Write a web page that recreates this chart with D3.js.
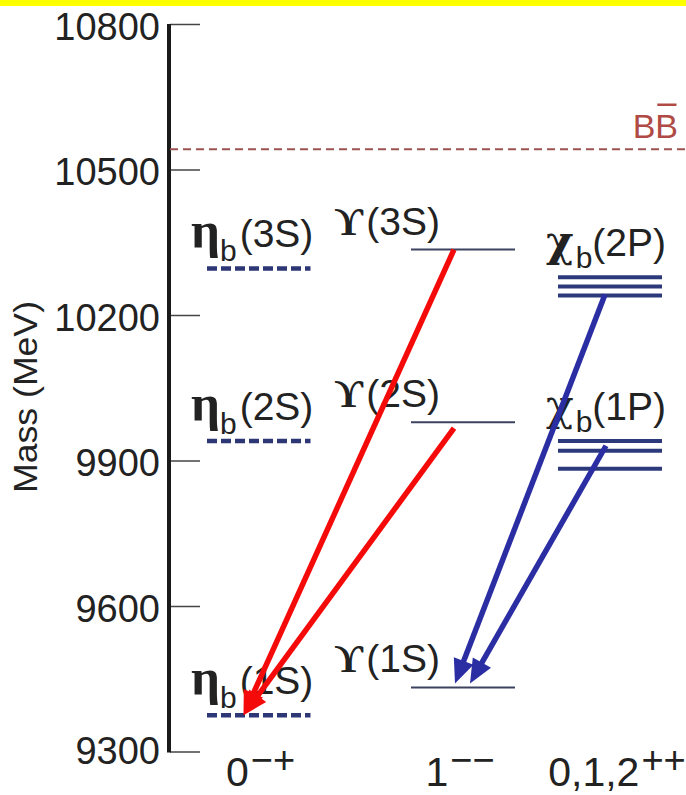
<!DOCTYPE html>
<html>
<head>
<meta charset="utf-8">
<script src="https://cdn.jsdelivr.net/npm/d3@7"></script>
<style>
  html, body { margin: 0; padding: 0; background: #fff; }
  svg { display: block; }
</style>
</head>
<body>
<svg id="chart" width="686" height="795"></svg>
<script>
// ---- data -----------------------------------------------------------
const columnKeys = ["eta", "ups", "chi"];
const columnBase = ["0", "1", "0,1,2"];
const columnSup = ["\u2212+", "\u2212\u2212", "++"];

const etaStates = ["1S", "2S", "3S"];
const etaMass = [9375, 9940, 10296];

const upsStates = ["1S", "2S", "3S"];
const upsMass = [9432, 9979, 10335];

const chiStates = ["1P", "2P"];
const chiMass = [[9883, 9920, 9940], [10240, 10259, 10278]];

const bbThreshold = 10542;
const massTicks = [9300, 9600, 9900, 10200, 10500, 10800];

const transitionFrom = ["ups:3S", "ups:2S", "chi:2P", "chi:1P"];
const transitionTo = ["eta:1S", "eta:1S", "ups:1S", "ups:1S"];
const transitionKind = ["M1", "M1", "E1", "E1"];

// ---- layout ---------------------------------------------------------
const svg = d3.select("#chart");
const W = 686;
const axisX = 170;

const y = d3.scaleLinear().domain([9300, 10800]).range([751.5, 24]);
const xCol = d3.scaleOrdinal().domain(columnKeys).range([258.5, 463, 610]);
const halfLen = 52;

const sans = "'Liberation Sans', Arial, Helvetica, sans-serif";
const serif = "'Liberation Serif', 'DejaVu Serif', 'Times New Roman', serif";
const greekSerif = "'DejaVu Serif', 'Liberation Serif', serif";
const ink = "#222";

// banner strip across the top
svg.append("rect").attr("x", 0).attr("y", 0).attr("width", W).attr("height", 6)
  .attr("fill", "#ffff00");

// ---- mass axis ------------------------------------------------------
const tickAxis = svg.append("g").attr("transform", `translate(${axisX},0)`)
  .call(d3.axisRight(y).tickValues(massTicks).tickSizeInner(30).tickSizeOuter(0).tickFormat(""));
tickAxis.select(".domain").remove();
tickAxis.selectAll(".tick line").attr("stroke", "#444").attr("stroke-width", 1.5);

const labelAxis = svg.append("g").attr("transform", `translate(${axisX},0)`)
  .call(d3.axisLeft(y).tickValues(massTicks).tickSize(0).tickPadding(10).tickFormat(d3.format("d")));
labelAxis.select(".domain").remove();
labelAxis.selectAll(".tick text")
  .attr("font-family", sans).attr("font-size", 38).attr("fill", ink)
  .attr("dy", null).attr("y", d => d === 9300 ? 12 : 15);

svg.append("line")
  .attr("x1", axisX - 1).attr("x2", axisX - 1)
  .attr("y1", y(10800)).attr("y2", y(9300) + 1)
  .attr("stroke", "#1a1a1a").attr("stroke-width", 4);

svg.append("text")
  .attr("transform", `translate(37,${397}) rotate(-90)`)
  .attr("text-anchor", "middle")
  .attr("font-family", sans).attr("font-size", 33).attr("fill", ink)
  .attr("textLength", 192).attr("lengthAdjust", "spacingAndGlyphs")
  .text("Mass (MeV)");

// ---- BB threshold ---------------------------------------------------
svg.append("line")
  .attr("x1", axisX).attr("x2", W)
  .attr("y1", y(bbThreshold)).attr("y2", y(bbThreshold))
  .attr("stroke", "#9c5352").attr("stroke-width", 2)
  .attr("stroke-dasharray", "8,5");

const bb = svg.append("text")
  .attr("x", 678).attr("y", 138).attr("text-anchor", "end")
  .attr("font-family", sans).attr("font-size", 34).attr("fill", "#b04a44");
bb.append("tspan").text("B");
const bBar = bb.append("tspan").text("B");
{
  const bx = bBar.node().getExtentOfChar(0);
  svg.append("rect")
    .attr("x", bx.x + 2).attr("y", 103.5).attr("width", bx.width - 3.5).attr("height", 2.5)
    .attr("fill", "#b04a44");
}

// ---- levels ---------------------------------------------------------
const levels = svg.append("g");

// eta_b (0-+): dashed
levels.selectAll("line.eta").data(etaMass).join("line")
  .attr("class", "eta")
  .attr("x1", xCol("eta") - halfLen + 0.5).attr("x2", xCol("eta") + halfLen)
  .attr("y1", d => y(d)).attr("y2", d => y(d))
  .attr("stroke", "#2d3775").attr("stroke-width", 4.5)
  .attr("stroke-dasharray", "10,4");

// Upsilon (1--): thin solid
levels.selectAll("line.ups").data(upsMass).join("line")
  .attr("class", "ups")
  .attr("x1", xCol("ups") - halfLen).attr("x2", xCol("ups") + halfLen)
  .attr("y1", d => y(d)).attr("y2", d => y(d))
  .attr("stroke", "#3d4260").attr("stroke-width", 2);

// chi_b (0,1,2++): triplets
levels.selectAll("g.chi").data(chiMass).join("g")
  .attr("class", "chi")
  .selectAll("line").data(d => d).join("line")
  .attr("x1", xCol("chi") - halfLen).attr("x2", xCol("chi") + halfLen)
  .attr("y1", d => y(d)).attr("y2", d => y(d))
  .attr("stroke", "#2c3a7b").attr("stroke-width", 4);

// ---- state labels ---------------------------------------------------
const labels = svg.append("g").attr("fill", ink);

etaStates.forEach((s, i) => {
  const t = labels.append("text").attr("x", 191).attr("y", y(etaMass[i]) - 21);
  t.append("tspan").attr("font-family", serif).attr("font-weight", "bold").attr("font-size", 51).text("\u03b7");
  t.append("tspan").attr("font-family", sans).attr("font-size", 30).attr("dy", 14).text("b");
  t.append("tspan").attr("font-family", sans).attr("font-size", 39).attr("dy", -14).attr("dx", 3).text(`(${s})`);
});

upsStates.forEach((s, i) => {
  const t = labels.append("text").attr("x", 440).attr("y", y(upsMass[i]) - 15).attr("text-anchor", "end");
  t.append("tspan").attr("font-family", serif).attr("font-weight", "bold").attr("font-size", 40).text("\u03d2");
  t.append("tspan").attr("font-family", sans).attr("font-size", 39).attr("dx", 3).text(`(${s})`);
});

chiStates.forEach((s, i) => {
  const t = labels.append("text").attr("x", 546).attr("y", y(d3.max(chiMass[i])) - 21);
  t.append("tspan").attr("font-family", greekSerif).attr("font-weight", "bold").attr("font-size", 42).text("\u03c7");
  t.append("tspan").attr("font-family", sans).attr("font-size", 30).attr("dy", 12).attr("dx", 2).text("b");
  t.append("tspan").attr("font-family", sans).attr("font-size", 39).attr("dy", -12).text(`(${s})`);
});

// ---- JPC column labels ----------------------------------------------
const colText = svg.append("g").attr("fill", ink).attr("font-family", sans);
const colShift = [2, -3, 7];
columnKeys.forEach((k, i) => {
  const t = colText.append("text")
    .attr("x", xCol(k) + colShift[i]).attr("y", 786).attr("text-anchor", "middle");
  t.append("tspan").attr("font-size", 41).text(columnBase[i]);
  t.append("tspan").attr("font-size", 38).attr("dy", -13).attr("dx", 2).text(columnSup[i]);
});

// ---- transitions ----------------------------------------------------
const stateMass = {};
etaStates.forEach((s, i) => stateMass["eta:" + s] = { col: "eta", m: etaMass[i] });
upsStates.forEach((s, i) => stateMass["ups:" + s] = { col: "ups", m: upsMass[i] });
chiStates.forEach((s, i) => stateMass["chi:" + s] = { col: "chi", m: d3.min(chiMass[i]) });

// pixel offsets of the arrow ends from the level anchor points
const endOffsets = [
  { fx: -9, fy: 0, tx: -15, ty: 0 },
  { fx: -9, fy: 6, tx: -15, ty: 0 },
  { fx: -5, fy: -1, tx: -8, ty: -4 },
  { fx: -4, fy: -23, tx: 7, ty: -4 }
];
const kindColour = { M1: "#f50a0a", E1: "#2b2ea3" };
const headLen = 24, headHalf = 10.5;

const arrows = svg.append("g");
transitionFrom.forEach((f, i) => {
  const a = stateMass[f], b = stateMass[transitionTo[i]], o = endOffsets[i];
  const x0 = xCol(a.col) + o.fx, y0 = y(a.m) + o.fy;
  const x1 = xCol(b.col) + o.tx, y1 = y(b.m) + o.ty;
  const dx = x1 - x0, dy = y1 - y0, L = Math.hypot(dx, dy);
  const ux = dx / L, uy = dy / L;
  const bx = x1 - ux * headLen, by = y1 - uy * headLen;
  const c = kindColour[transitionKind[i]];
  arrows.append("line")
    .attr("x1", x0).attr("y1", y0).attr("x2", bx + ux * 2).attr("y2", by + uy * 2)
    .attr("stroke", c).attr("stroke-width", 5.5);
  arrows.append("polygon")
    .attr("points", [
      [x1, y1],
      [bx - uy * headHalf, by + ux * headHalf],
      [bx + uy * headHalf, by - ux * headHalf]
    ].map(p => p.join(",")).join(" "))
    .attr("fill", c);
});
</script>
</body>
</html>
